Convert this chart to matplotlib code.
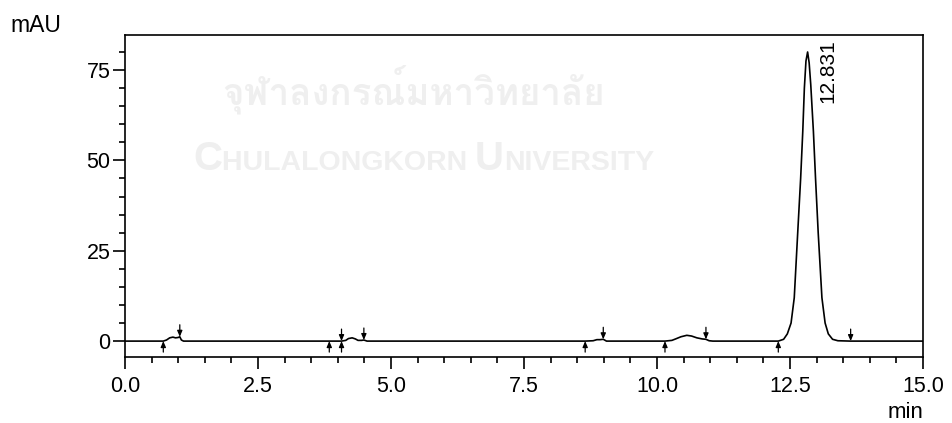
import numpy as np
import matplotlib
matplotlib.use("Agg")
import matplotlib.pyplot as plt
from matplotlib import font_manager, ft2font
from matplotlib.ticker import MultipleLocator

# Chromatogram trace: retention time (min) and detector signal (mAU)
time_min = [0.00, 0.72, 0.78, 0.84, 0.90, 0.95, 1.00, 1.03, 1.06, 1.10,
            3.84, 4.07, 4.15, 4.20, 4.27, 4.33, 4.38, 4.45, 4.49, 4.55,
            8.65, 8.80, 8.87, 8.93, 8.99, 9.05,
            10.15, 10.28, 10.35, 10.45, 10.56, 10.65, 10.75, 10.85, 10.92, 10.98, 11.05,
            12.28, 12.38, 12.45, 12.52, 12.58, 12.645, 12.70, 12.74, 12.77, 12.80,
            12.831, 12.86, 12.89, 12.94, 12.98, 13.03, 13.10, 13.16, 13.22, 13.30,
            13.40, 13.64, 15.00]
signal_mau = [0.0, 0.0, 0.3, 0.9, 1.1, 0.9, 1.0, 1.2, 0.3, 0.0,
              0.0, 0.0, 0.2, 0.7, 0.9, 0.6, 0.2, 0.2, 0.3, 0.0,
              0.0, 0.1, 0.4, 0.4, 0.5, 0.0,
              0.0, 0.2, 0.6, 1.2, 1.6, 1.4, 0.9, 0.6, 0.5, 0.1, 0.0,
              0.0, 0.5, 2.0, 5.0, 12.0, 30.0, 45.0, 58.0, 70.0, 77.5,
              80.0, 77.0, 71.0, 58.0, 45.0, 30.0, 12.0, 5.0, 2.0, 0.5,
              0.1, 0.0, 0.0]

# Integration baseline markers (min)
peak_starts = [0.72, 3.84, 4.07, 8.65, 10.15, 12.28]
peak_ends = [1.03, 4.07, 4.49, 8.99, 10.92, 13.64]

# Labelled peak retention time (min)
labelled_rt = [12.831]

x_ticks = [0.0, 2.5, 5.0, 7.5, 10.0, 12.5, 15.0]
x_tick_labels = ["0.0", "2.5", "5.0", "7.5", "10.0", "12.5", "15.0"]
y_ticks = [0, 25, 50, 75]

FONT = ["Liberation Sans", "DejaVu Sans"]
plt.rcParams["font.family"] = FONT

W, H, DPI = 952, 423, 100
fig = plt.figure(figsize=(W / DPI, H / DPI), dpi=DPI)
ax = fig.add_axes([125 / W, 1 - 357 / H, (923 - 125) / W, (357 - 35) / H])
renderer = fig.canvas.get_renderer()


def find_font(sample):
    """Return a font file that covers every character of sample, or None."""
    codes = {ord(c) for c in sample if not c.isspace()}
    for entry in font_manager.fontManager.ttflist:
        try:
            cmap = ft2font.FT2Font(entry.fname).get_charmap()
        except Exception:
            continue
        if codes.issubset(cmap.keys()):
            return entry.fname
    return None


def fit_width(txt, target_px):
    w = txt.get_window_extent(renderer).width
    if w > 0:
        txt.set_fontsize(txt.get_fontsize() * target_px / w)


# Faint watermark behind the chart
wm_color = "#efefef"
thai = "จุฬาลงกรณ์มหาวิทยาลัย"
thai_font = find_font(thai)
if thai_font is not None:
    tt = fig.text((222 + 605) / 2 / W, 1 - 105 / H, thai, ha="center", va="baseline",
                  color=wm_color,
                  fontproperties=font_manager.FontProperties(fname=thai_font, weight="bold",
                                                             size=30),
                  zorder=0)
    fit_width(tt, 383)

# Small-caps university name, each piece placed after the previous one
wm_font = ["Liberation Sans Narrow", "Liberation Sans", "DejaVu Sans"]
base_y = 1 - 170 / H
pieces = [("C", 29), ("HULALONGKORN ", 20.5), ("U", 29), ("NIVERSITY", 20.5)]
x_px = 193
for s, fs in pieces:
    t = fig.text(x_px / W, base_y, s, ha="left", va="baseline", color=wm_color,
                 fontsize=fs, fontweight="bold", family=wm_font, zorder=0)
    x_px = t.get_window_extent(renderer).x1

# Trace
ax.plot(time_min, signal_mau, color="black", lw=1.2, zorder=3)

# Baseline markers
arrow_kw = dict(arrowstyle="-|>,head_length=0.35,head_width=0.15", color="black",
                lw=0.9, shrinkA=0, shrinkB=0, mutation_scale=10)
for t0 in peak_starts:
    ax.annotate("", xy=(t0, 0), xytext=(0, -11), textcoords="offset pixels",
                arrowprops=arrow_kw, zorder=4)
for t1 in peak_ends:
    y1 = np.interp(t1, time_min, signal_mau)
    ax.annotate("", xy=(t1, y1), xytext=(0, 12), textcoords="offset pixels",
                arrowprops=arrow_kw, zorder=4)

# Retention-time labels
for rt in labelled_rt:
    ax.annotate(f"{rt:.3f}", xy=(rt, np.interp(rt, time_min, signal_mau)),
                xytext=(11, 13), textcoords="offset pixels", rotation=90,
                ha="left", va="top", fontsize=15, color="black", zorder=5)

ax.set_xlim(0, 15)
ax.set_ylim(-4.4, 84.7)
ax.set_xticks(x_ticks)
ax.set_xticklabels(x_tick_labels)
ax.set_yticks(y_ticks)
ax.xaxis.set_minor_locator(MultipleLocator(0.5))
ax.yaxis.set_minor_locator(MultipleLocator(5))
ax.tick_params(which="major", direction="out", length=8.5, width=1.2, labelsize=15.5,
               color="black")
ax.tick_params(which="minor", direction="out", length=4.5, width=1.2, color="black")
ax.tick_params(axis="x", which="major", pad=5)
ax.tick_params(axis="y", which="major", pad=2)
for sp in ax.spines.values():
    sp.set_linewidth(1.2)
    sp.set_color("black")
ax.set_facecolor("none")

fig.text(10 / W, 1 - 32 / H, "mAU", ha="left", va="baseline", fontsize=16.5)
fig.text(923 / W, 1 - 418 / H, "min", ha="right", va="baseline", fontsize=16)

fig.savefig("out.png", dpi=DPI)
